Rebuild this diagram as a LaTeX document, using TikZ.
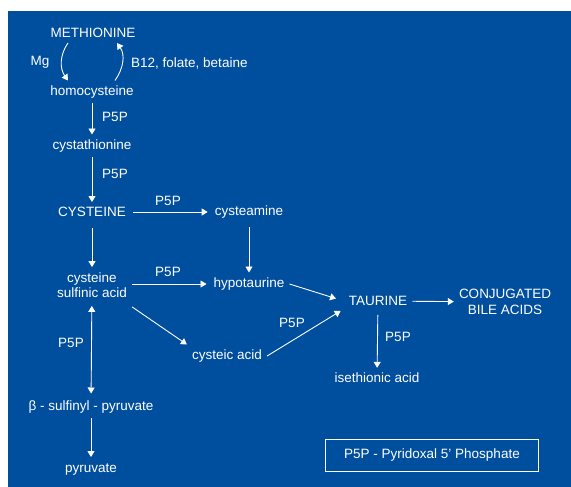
\documentclass[tikz,border=0pt]{standalone}
\usepackage{fontspec}
\setmainfont{Liberation Sans}
\usepackage{tikz}
\usetikzlibrary{arrows.meta, positioning, calc}
\definecolor{bgblue}{RGB}{0,78,158}
\tikzstyle{txt} = [text=white, font=\fontsize{13.5}{15.5}\selectfont, inner sep=5pt, align=center]
\tikzstyle{arrow} = [white, line width=0.9pt, -{Triangle[width=7pt,length=6pt]}]
\tikzstyle{darrow} = [white, line width=0.9pt, {Triangle[width=7pt,length=6pt]}-{Triangle[width=7pt,length=6pt]}]

\begin{document}
\begin{tikzpicture}[x=1pt,y=-1pt]
    \useasboundingbox (0,0) rectangle (571,487);
    \fill[white] (0,0) rectangle (571,487);
    \fill[bgblue] (8,11) rectangle (571,487);

    % main chain
    \node[txt] (met) at (93,33) {METHIONINE};
    \node[txt] (hcy) at (92,92) {homocysteine};
    \node[txt] (cysta) at (92,146) {cystathionine};
    \node[txt] (cyst) at (92,212) {CYSTEINE};
    \node[txt] (csa) at (92,285) {cysteine\\sulfinic acid};
    \node[txt] (bsp) at (91,407) {β - sulfinyl - pyruvate};
    \node[txt] (pyr) at (91,470) {pyruvate};
    \node[txt] (cysteam) at (249,212) {cysteamine};
    \node[txt] (hypo) at (249,284) {hypotaurine};
    \node[txt] (cysteic) at (227,356) {cysteic acid};
    \node[txt] (tau) at (378,301) {TAURINE};
    \node[txt] (bile) at (505,302) {CONJUGATED\\BILE ACIDS};
    \node[txt] (ise) at (377,378) {isethionic acid};

    % cofactors
    \node[txt] (mg) at (40,62) {Mg};
    \node[txt, anchor=west] (b12) at (126,63) {B12, folate, betaine};
    \node[txt] (p5p-1) at (115,117) {P5P};
    \node[txt] (p5p-2) at (115,174) {P5P};
    \node[txt] (p5p-3) at (168,201) {P5P};
    \node[txt] (p5p-4) at (168,272) {P5P};
    \node[txt] (p5p-5) at (71,343) {P5P};
    \node[txt] (p5p-6) at (292,323) {P5P};
    \node[txt] (p5p-7) at (398,337) {P5P};

    \node[txt, draw=white, line width=0.8pt, minimum width=213pt, minimum height=32pt] (key) at (432,455) {P5P - Pyridoxal 5' Phosphate};

    % connectors
    \draw[arrow] ([xshift=-25pt]met.south) to[out=235,in=125] ([xshift=-24pt]hcy.north);
    \draw[arrow] ([xshift=23pt]hcy.north) to[out=55,in=-55] ([xshift=24pt]met.south);
    \draw[arrow] (hcy) -- (cysta);
    \draw[arrow] (cysta) -- (cyst);
    \draw[arrow, shorten <=6pt] (cyst) -- (csa);
    \draw[arrow, shorten <=2pt, shorten >=2pt] (cyst) -- (cysteam);
    \draw[arrow, shorten <=4pt] (cysteam) -- (hypo);
    \draw[arrow, shorten >=2pt] (csa.east |- hypo) -- (hypo);
    \draw[darrow, shorten <=3pt, shorten >=2pt] (csa) -- (bsp);
    \draw[arrow, shorten >=2pt] (bsp) -- (pyr);
    \draw[arrow] ([yshift=-4pt]csa.south east) -- (cysteic.north west);
    \draw[arrow] (cysteic.east) -- ([xshift=-3pt]tau.south west);
    \draw[arrow, shorten >=8pt] (hypo.east) -- (tau.west);
    \draw[arrow] (tau) -- (bile);
    \draw[arrow, shorten <=4pt] (tau) -- (ise);
\end{tikzpicture}
\end{document}
